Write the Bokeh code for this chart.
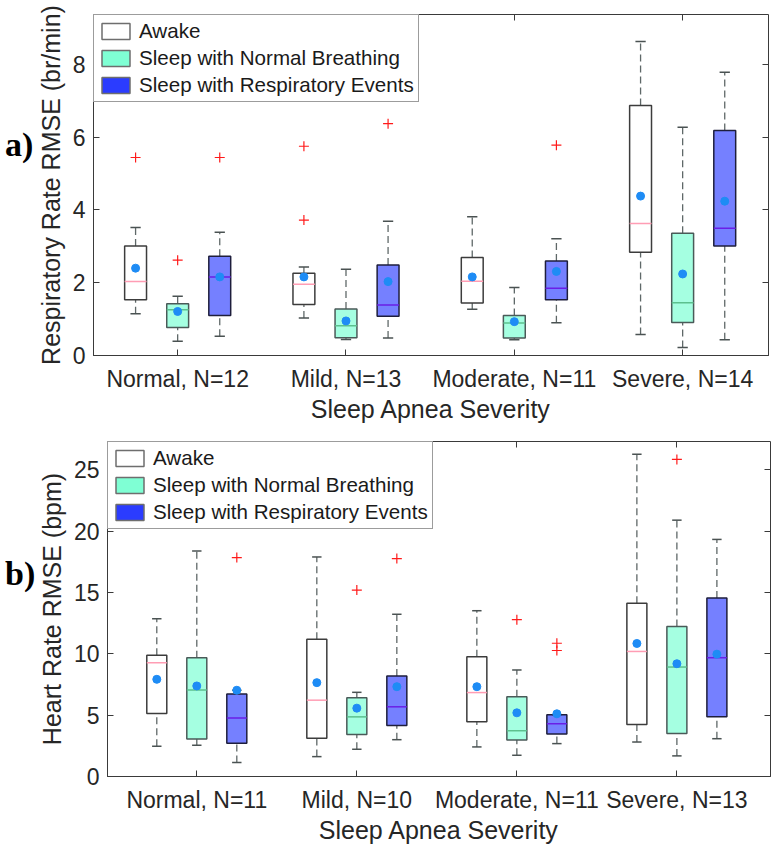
import math
from bokeh.plotting import figure
from bokeh.layouts import column, row
from bokeh.models import (Legend, LegendItem, LinearAxis, FixedTicker, Range1d,
                          ColumnDataSource, Div)
from bokeh.embed import file_html
from bokeh.resources import INLINE

# ---------------- data ----------------
conditions = ["Awake", "Sleep with Normal Breathing", "Sleep with Respiratory Events"]

rr_groups = ["Normal, N=12", "Mild, N=13", "Moderate, N=11", "Severe, N=14"]
# rows: Awake, Sleep normal, Sleep with events ; columns: Normal, Mild, Moderate, Severe
rr_low = [[1.15, 1.03, 1.27, 0.58], [0.39, 0.44, 0.43, 0.22], [0.53, 0.48, 0.90, 0.43]]
rr_q1 = [[1.53, 1.40, 1.44, 2.84], [0.77, 0.49, 0.48, 0.91], [1.10, 1.08, 1.53, 3.01]]
rr_med = [[2.03, 1.96, 2.04, 3.63], [1.26, 0.82, 0.89, 1.45], [2.16, 1.39, 1.85, 3.50]]
rr_q3 = [[3.01, 2.26, 2.69, 6.87], [1.42, 1.28, 1.10, 3.36], [2.73, 2.49, 2.60, 6.18]]
rr_high = [[3.52, 2.43, 3.81, 8.63], [1.63, 2.37, 1.87, 6.27], [3.39, 3.69, 3.21, 7.78]]
rr_mean = [[2.40, 2.16, 2.16, 4.38], [1.21, 0.95, 0.93, 2.24], [2.16, 2.03, 2.31, 4.24]]
rr_out_group = [0, 1, 1, 0, 0, 1, 2]
rr_out_cond = [0, 0, 0, 1, 2, 2, 2]
rr_out_value = [5.44, 5.75, 3.72, 2.62, 5.44, 6.37, 5.78]
rr_ticks = [0, 2, 4, 6, 8]

hr_groups = ["Normal, N=11", "Mild, N=10", "Moderate, N=11", "Severe, N=13"]
hr_low = [[2.46, 1.62, 2.41, 2.81], [2.54, 2.22, 1.73, 1.68], [1.14, 3.00, 2.68, 3.08]]
hr_q1 = [[5.14, 3.11, 4.46, 4.24], [3.05, 3.43, 2.97, 3.51], [2.70, 4.16, 3.46, 4.86]]
hr_med = [[9.27, 6.22, 6.84, 10.19], [7.05, 4.86, 3.73, 8.92], [4.76, 5.68, 4.30, 9.68]]
hr_q3 = [[9.89, 11.19, 9.76, 14.11], [9.68, 6.41, 6.49, 12.22], [6.73, 8.19, 5.03, 14.54]]
hr_high = [[12.86, 17.89, 13.51, 26.27], [18.38, 6.86, 8.68, 20.89], [7.03, 13.22, 5.03, 19.32]]
hr_mean = [[7.92, 7.65, 7.32, 10.84], [7.38, 5.57, 5.19, 9.19], [7.03, 7.32, 5.11, 9.97]]
hr_out_group = [1, 2, 3, 0, 1, 2, 2]
hr_out_cond = [1, 1, 1, 2, 2, 2, 2]
hr_out_value = [15.19, 12.78, 25.84, 17.84, 17.76, 10.86, 10.27]
hr_ticks = [0, 5, 10, 15, 20, 25]

# ---------------- style ----------------
FONT = "Liberation Sans"
AX = "#3a3a3a"
legend_fill = ["#ffffff", "#7fffd4", "#2b3cff"]
box_fill = ["#ffffff", "#7fffd4", "#2b3cff"]
box_alpha = [1.0, 0.7, 0.65]
box_line = ["#3c3c3c", "#4a5a58", "#1e1e3c"]
median_col = ["#ff9db4", "#5cc08e", "#6a1ee6"]
offsets = [-0.25, 0.0, 0.25]


def hidden_axis(ticks):
    return LinearAxis(ticker=FixedTicker(ticks=ticks), major_tick_in=6, major_tick_out=0,
                      minor_tick_line_color=None, major_label_text_font_size="1px",
                      major_label_overrides={t: "" for t in ticks},
                      major_label_standoff=0, axis_line_color=None,
                      major_tick_line_color=AX)


def panel(groups, low, q1, med, q3, high, mean, og, oc, ov, ticks,
          ylabel, xr, yr, height, borders, box_w):
    bl, br, bt, bb = borders
    p = figure(width=773, height=height, x_range=Range1d(*xr), y_range=Range1d(*yr),
               output_backend="svg", toolbar_location=None,
               min_border_left=bl, min_border_right=br, min_border_top=bt,
               min_border_bottom=bb)
    p.xgrid.visible = False
    p.ygrid.visible = False
    p.outline_line_color = AX
    p.outline_line_width = 1
    cap_w = box_w * 0.47

    legend_items = []
    for c in range(3):
        xs = [g + 1 + offsets[c] for g in range(4)]
        src = ColumnDataSource(dict(
            x=xs, x0=[x - box_w / 2 for x in xs], x1=[x + box_w / 2 for x in xs],
            c0=[x - cap_w / 2 for x in xs], c1=[x + cap_w / 2 for x in xs],
            low=low[c], q1=q1[c], med=med[c], q3=q3[c], high=high[c], mean=mean[c]))
        p.segment("x", "q3", "x", "high", source=src, line_color="#5f6868",
                  line_width=1.3, line_dash="7 4")
        p.segment("x", "low", "x", "q1", source=src, line_color="#5f6868",
                  line_width=1.3, line_dash="7 4")
        p.segment("c0", "high", "c1", "high", source=src, line_color="#4a5252", line_width=1.5)
        p.segment("c0", "low", "c1", "low", source=src, line_color="#4a5252", line_width=1.5)
        p.vbar(x="x", width=box_w, bottom="q1", top="q3", source=src,
               fill_color=box_fill[c], fill_alpha=box_alpha[c],
               line_color=box_line[c], line_width=1.5)
        p.segment("x0", "med", "x1", "med", source=src, line_color=median_col[c], line_width=1.5)
        r = p.vbar(x=[math.nan], width=box_w, bottom=[math.nan], top=[math.nan],
                   fill_color=legend_fill[c], line_color="#6e6e6e", line_width=1.5)
        legend_items.append(LegendItem(label=conditions[c], renderers=[r]))

    for c in range(3):
        xs = [g + 1 + offsets[c] for g in range(4)]
        p.scatter(xs, mean[c], marker="circle", size=8, fill_color="#1e8cf5",
                  line_color="#1e8cf5")

    ox = [og[i] + 1 + offsets[oc[i]] for i in range(len(ov))]
    p.scatter(ox, ov, marker="cross", size=10, line_color="#ff1a1a", line_width=1.2)

    xa = p.xaxis[0]
    xa.ticker = FixedTicker(ticks=[1, 2, 3, 4])
    xa.major_label_overrides = {i + 1: groups[i] for i in range(4)}
    xa.axis_label = "Sleep Apnea Severity"
    ya = p.yaxis[0]
    ya.ticker = FixedTicker(ticks=ticks)
    ya.axis_label = ylabel
    for a in (xa, ya):
        a.major_tick_in = 6
        a.major_tick_out = 0
        a.minor_tick_line_color = None
        a.axis_line_color = AX
        a.major_tick_line_color = AX
        a.major_label_text_font = FONT
        a.major_label_text_font_size = "23px"
        a.major_label_text_color = "#262626"
        a.axis_label_text_font = FONT
        a.axis_label_text_font_size = "25px"
        a.axis_label_text_font_style = "normal"
        a.axis_label_text_color = "#262626"
    xa.major_label_standoff = 10
    xa.axis_label_standoff = 0
    ya.major_label_standoff = 8
    ya.axis_label_standoff = 5

    p.add_layout(hidden_axis(ticks), "right")
    p.add_layout(hidden_axis([1, 2, 3, 4]), "above")

    leg = Legend(items=legend_items, location="top_left", margin=0, padding=4,
                 spacing=3, glyph_width=35, glyph_height=20, label_height=20,
                 label_standoff=6, label_text_font=FONT, label_text_font_size="20.6px",
                 label_text_color="#1a1a1a", border_line_color="#3a3a3a",
                 border_line_width=1, background_fill_alpha=1.0)
    p.add_layout(leg)
    return p


def tag(text, top):
    return Div(text=text, width=40, height=42,
               styles={"position": "absolute", "left": "0px", "top": f"{top}px",
                       "font-family": "Liberation Serif", "font-weight": "bold",
                       "font-size": "34px", "color": "#000000", "line-height": "1.15",
                       "z-index": "5"})


p1 = panel(rr_groups, rr_low, rr_q1, rr_med, rr_q3, rr_high, rr_mean,
           rr_out_group, rr_out_cond, rr_out_value, rr_ticks,
           "Respiratory Rate RMSE (br/min)", (0.5, 4.51), (0, 9.37), 425,
           (93, 5, 14, 69), 0.13)
p2 = panel(hr_groups, hr_low, hr_q1, hr_med, hr_q3, hr_high, hr_mean,
           hr_out_group, hr_out_cond, hr_out_value, hr_ticks,
           "Heart Rate RMSE (bpm)", (0.442, 4.585), (0, 27.3), 421,
           (107, 3, 16, 69), 0.125)

layout = column(row(p1), row(p2), tag("a)", 120), tag("b)", 549), spacing=0)
open("out.html", "w").write(file_html(layout, INLINE))
